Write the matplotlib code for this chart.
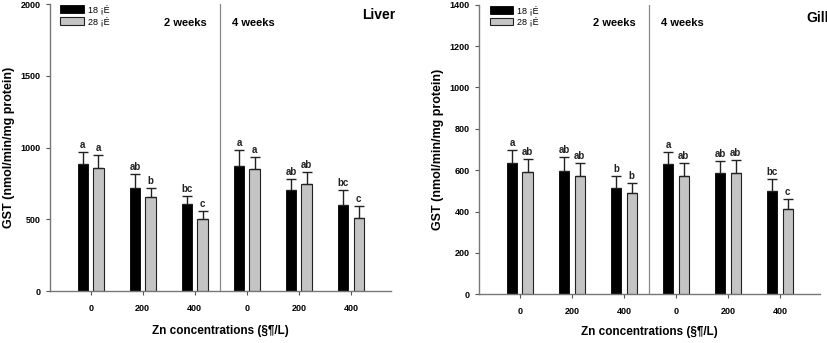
import numpy as np
import matplotlib.pyplot as plt

plt.rcParams['font.family'] = ['Liberation Sans', 'DejaVu Sans']

conc_labels = ["0", "200", "400", "0", "200", "400"]
series_labels = ["18 \u00a1\u00c9", "28 \u00a1\u00c9"]

# liver: 2 weeks (0,200,400) then 4 weeks (0,200,400)
liver_18 = [885, 716, 604, 873, 704, 599]
liver_18_err = [86, 99, 58, 112, 76, 105]
liver_28 = [855, 653, 500, 852, 748, 507]
liver_28_err = [93, 67, 57, 84, 83, 87]
liver_18_sig = ["a", "ab", "bc", "a", "ab", "bc"]
liver_28_sig = ["a", "b", "c", "a", "ab", "c"]

gill_18 = [636, 596, 512, 630, 585, 499]
gill_18_err = [61, 66, 61, 59, 59, 57]
gill_28 = [593, 573, 488, 573, 588, 412]
gill_28_err = [59, 60, 48, 60, 61, 48]
gill_18_sig = ["a", "ab", "b", "a", "ab", "bc"]
gill_28_sig = ["ab", "ab", "b", "ab", "ab", "c"]

fig = plt.figure(figsize=(8.27, 3.43), dpi=100)
ax1 = fig.add_axes([0.0605, 0.1516, 0.4123, 0.8367])
ax2 = fig.add_axes([0.5796, 0.1420, 0.4119, 0.8443])


def panel(ax, v18, e18, v28, e28, s18, s28, ymax, step, name, name_x, name_y, name_ha, wk_y, xpad):
    x = np.arange(len(conc_labels))
    w = 0.2
    off = 0.15
    b1 = ax.bar(x - off, v18, w, color="black", edgecolor="black", linewidth=0.6, zorder=2)
    b2 = ax.bar(x + off, v28, w, color="#c4c4c4", edgecolor="#222222", linewidth=0.8, zorder=2)
    for xs, v, e in [(x - off, v18, e18), (x + off, v28, e28)]:
        ax.errorbar(xs, v, yerr=[np.zeros(len(v)), e], fmt="none", ecolor="#222222",
                    elinewidth=1.0, capsize=3.5, capthick=1.0, zorder=3)
    for xs, v, e, s in [(x - off, v18, e18, s18), (x + off, v28, e28, s28)]:
        for xi, vi, ei, si in zip(xs, v, e, s):
            ax.annotate(si, (xi, vi + ei), xytext=(0, 1.5), textcoords="offset points",
                        ha="center", va="bottom", fontsize=7, fontweight="bold", color="#222222")
    ax.axvline(2.48, color="#888888", linewidth=0.9, zorder=1)
    ax.set_xlim(-0.78, 5.77)
    ax.set_ylim(0, ymax)
    ax.set_yticks(np.arange(0, ymax + 1, step))
    ax.set_xticks(x)
    ax.set_xticklabels(conc_labels)
    ax.tick_params(axis="both", labelsize=6.5, length=3, width=0.8, color="#555555", pad=6)
    ax.tick_params(axis="y", pad=4)
    for lab in ax.get_xticklabels() + ax.get_yticklabels():
        lab.set_fontweight("bold")
    for sp in ["top", "right"]:
        ax.spines[sp].set_visible(False)
    for sp in ["left", "bottom"]:
        ax.spines[sp].set_color("#777777")
        ax.spines[sp].set_linewidth(1.0)
    ax.set_ylabel("GST (nmol/min/mg protein)", fontsize=9, fontweight="bold", labelpad=4)
    ax.set_xlabel("Zn concentrations (\u00a7\u00b6/L)", fontsize=8.5, fontweight="bold", labelpad=xpad)
    ax.text(1.82, wk_y, "2 weeks", ha="center", va="center", fontsize=8, fontweight="bold")
    ax.text(3.12, wk_y, "4 weeks", ha="center", va="center", fontsize=8, fontweight="bold")
    ax.text(name_x, name_y, name, ha=name_ha, va="center", fontsize=10, fontweight="bold",
            clip_on=False)
    leg = ax.legend([b1, b2], series_labels, loc="upper left", bbox_to_anchor=(0.02, 1.01),
                    frameon=False, fontsize=6.5, handlelength=2.6, handleheight=0.9,
                    handletextpad=0.4, labelspacing=0.25, borderaxespad=0)
    return leg


panel(ax1, liver_18, liver_18_err, liver_28, liver_28_err, liver_18_sig, liver_28_sig,
      2000, 500, "Liver", 5.85, 1924, "right", 1868, 9)
panel(ax2, gill_18, gill_18_err, gill_28, gill_28_err, gill_18_sig, gill_28_sig,
      1400, 200, "Gill", 5.5, 1334, "left", 1310, 7)

fig.savefig("out.png", dpi=100)
